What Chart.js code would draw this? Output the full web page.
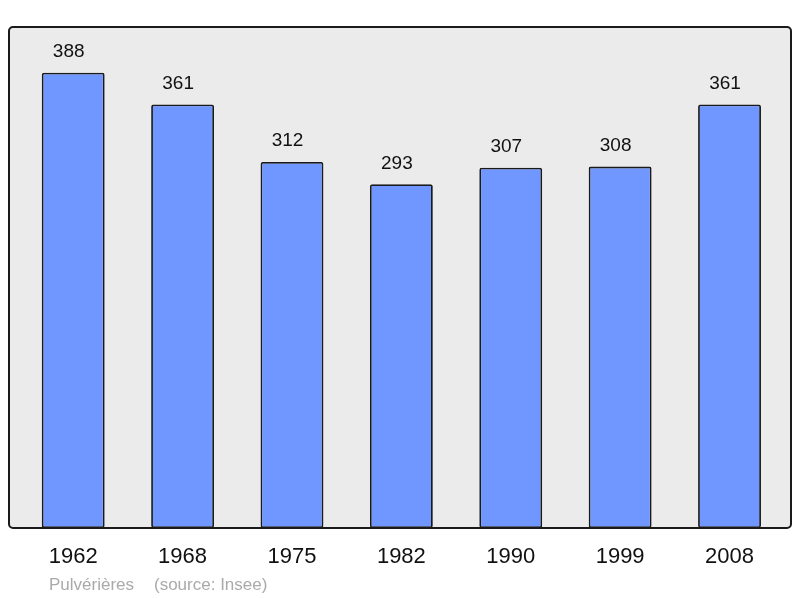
<!DOCTYPE html>
<html>
<head>
<meta charset="utf-8">
<script src="https://cdn.jsdelivr.net/npm/chart.js@4.4.0/dist/chart.umd.min.js"></script>
<style>
  html, body { margin: 0; padding: 0; background: #ffffff; }
  canvas { display: block; }
</style>
</head>
<body>
<canvas id="popChart" width="800" height="598"></canvas>
<script>
// Data
const years = ['1962', '1968', '1975', '1982', '1990', '1999', '2008'];
const population = [388, 361, 312, 293, 307, 308, 361];
const commune = 'Pulvérières';
const source = '(source: Insee)';

const ctx = document.getElementById('popChart').getContext('2d');
const FONT = "'Liberation Sans', Arial, sans-serif";

// grey rounded panel behind the bars, border drawn on top of them
const framePlugin = {
    id: 'frame',
    beforeDatasetsDraw(chart) {
        const a = chart.chartArea;
        const c = chart.ctx;
        c.save();
        c.beginPath();
        c.roundRect(a.left, a.top, a.right - a.left, a.bottom - a.top, 4);
        c.fillStyle = '#ebebeb';
        c.fill();
        c.restore();
    },
    afterDatasetsDraw(chart) {
        const a = chart.chartArea;
        const c = chart.ctx;
        c.save();
        c.beginPath();
        c.roundRect(a.left, a.top, a.right - a.left, a.bottom - a.top, 4);
        c.lineWidth = 2;
        c.strokeStyle = '#1a1a1a';
        c.stroke();

        // value labels above bars (sit a little left of the bar centre)
        const meta = chart.getDatasetMeta(0);
        c.fillStyle = '#111111';
        c.font = '19px ' + FONT;
        c.textAlign = 'center';
        c.textBaseline = 'alphabetic';
        meta.data.forEach((bar, i) => {
            c.fillText(String(population[i]), bar.x - 4.5, bar.y - 15.5);
        });

        // caption
        c.fillStyle = '#aaaaaa';
        c.font = '17px ' + FONT;
        c.textAlign = 'left';
        c.fillText(commune, 49, 590);
        c.fillText(source, 154, 590);
        c.restore();
    }
};

new Chart(ctx, {
    type: 'bar',
    data: {
        datasets: [{
            data: population.map((v, i) => ({ x: i, y: v })),
            backgroundColor: '#7096ff',
            borderColor: '#1a1a1a',
            borderWidth: 1.8,
            borderSkipped: false,
            borderRadius: 2,
            barPercentage: 0.575,
            categoryPercentage: 1
        }]
    },
    options: {
        responsive: false,
        animation: false,
        layout: { padding: { top: 27, left: 9, right: 9, bottom: 11.6 } },
        plugins: {
            legend: { display: false },
            tooltip: { enabled: false }
        },
        scales: {
            x: {
                type: 'linear',
                offset: false,
                min: -0.587,
                max: 6.562,
                border: { display: false },
                grid: { display: false, drawTicks: false, tickLength: 0 },
                ticks: {
                    stepSize: 1,
                    includeBounds: false,
                    autoSkip: false,
                    maxRotation: 0,
                    padding: 16,
                    color: '#111111',
                    font: { family: FONT, size: 22 },
                    callback: (v) => Number.isInteger(v) && years[v] ? years[v] : ''
                }
            },
            y: {
                display: false,
                min: 0,
                max: 427
            }
        }
    },
    plugins: [framePlugin]
});
</script>
</body>
</html>
